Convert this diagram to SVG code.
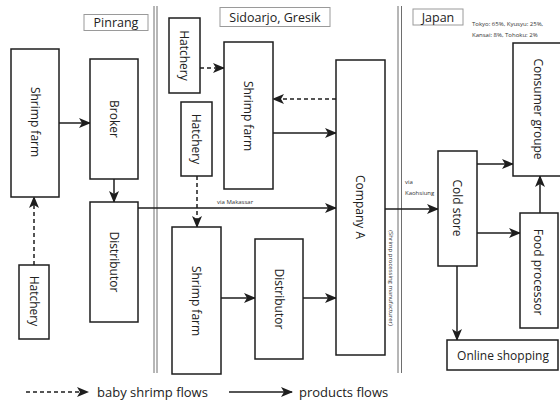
<svg xmlns="http://www.w3.org/2000/svg" width="560" height="401" viewBox="0 0 560 401">
  <style>
    .box { fill: #fff; stroke: #1e1e1e; stroke-width: 1.5; }
    .tag { fill: #fff; stroke: #9a9a9a; stroke-width: 1; }
    .lbl { font-family: "Open Sans", "Liberation Sans", sans-serif; font-size: 12px; fill: #222; text-anchor: middle; dominant-baseline: central; }
    .tagtxt { font-family: "Open Sans", "Liberation Sans", sans-serif; font-size: 12.5px; fill: #222; text-anchor: middle; dominant-baseline: central; }
    .small { font-family: "Open Sans", "Liberation Sans", sans-serif; font-size: 6px; fill: #333; }
    .sep { stroke: #6e6e6e; stroke-width: 1; }
    .flow { fill: none; stroke: #1e1e1e; stroke-width: 1.5; marker-end: url(#head); }
    .baby { fill: none; stroke: #1e1e1e; stroke-width: 1.5; stroke-dasharray: 4 3; marker-end: url(#head); }
    .legend { font-family: "Open Sans", "Liberation Sans", sans-serif; font-size: 13px; fill: #222; }
  </style>
  <defs>
    <marker id="head" markerUnits="userSpaceOnUse" markerWidth="12" markerHeight="10" refX="11" refY="5" orient="auto">
      <path d="M0,0 L12,5 L0,10 L3,5 Z" fill="#1e1e1e"/>
    </marker>
  </defs>

  <rect width="560" height="401" fill="#fff"/>

  <!-- region separators -->
  <g id="separators">
    <line class="sep" x1="154" y1="6" x2="154" y2="373"/>
    <line class="sep" x1="157" y1="6" x2="157" y2="373"/>
    <line class="sep" x1="398" y1="6" x2="398" y2="373"/>
    <line class="sep" x1="401.5" y1="6" x2="401.5" y2="373"/>
  </g>

  <!-- region titles -->
  <g id="title-pinrang">
    <rect class="tag" x="84" y="14.5" width="64" height="16"/>
    <text class="tagtxt" x="116" y="22.5">Pinrang</text>
  </g>
  <g id="title-sidoarjo">
    <rect class="tag" x="220" y="7.5" width="110" height="19"/>
    <text class="tagtxt" x="275" y="17">Sidoarjo, Gresik</text>
  </g>
  <g id="title-japan">
    <rect class="tag" x="413" y="9" width="50" height="16"/>
    <text class="tagtxt" x="438" y="17">Japan</text>
  </g>
  <g id="japan-shares">
    <text class="small" x="472" y="26">Tokyo: 65%, Kyusyu: 25%,</text>
    <text class="small" x="472" y="37">Kansai: 8%, Tohoku: 2%</text>
  </g>

  <!-- connectors -->
  <g id="connectors">
    <line class="flow" x1="59" y1="123" x2="90" y2="123"/>
    <line class="flow" x1="114" y1="179" x2="114" y2="202"/>
    <line class="baby" x1="34" y1="265" x2="34" y2="197"/>
    <line class="flow" x1="138" y1="208" x2="336" y2="208"/>
    <line class="baby" x1="200" y1="68" x2="224" y2="68"/>
    <line class="baby" x1="336" y1="99" x2="273" y2="99"/>
    <line class="flow" x1="273" y1="133" x2="336" y2="133"/>
    <line class="baby" x1="197" y1="176" x2="197" y2="227"/>
    <line class="flow" x1="221" y1="298" x2="255" y2="298"/>
    <line class="flow" x1="303" y1="298" x2="336" y2="298"/>
    <line class="flow" x1="385" y1="209" x2="438" y2="209"/>
    <line class="flow" x1="477" y1="164" x2="513" y2="164"/>
    <line class="flow" x1="477" y1="233" x2="520" y2="233"/>
    <line class="flow" x1="540" y1="213" x2="540" y2="176"/>
    <line class="flow" x1="457" y1="266" x2="457" y2="340"/>
    <text class="small" x="217" y="204">via Makassar</text>
    <text class="small" x="405" y="184">via</text>
    <text class="small" x="405" y="195">Kaohsiung</text>
  </g>

  <!-- Pinrang nodes -->
  <g id="shrimp-farm-pinrang">
    <rect class="box" x="11" y="49" width="48" height="148"/>
    <text class="lbl" transform="translate(35,122) rotate(90)" font-size="13">Shrimp farm</text>
  </g>
  <g id="broker">
    <rect class="box" x="90" y="59" width="48" height="120"/>
    <text class="lbl" transform="translate(114,119) rotate(90)" font-size="13">Broker</text>
  </g>
  <g id="distributor-pinrang">
    <rect class="box" x="90" y="202" width="48" height="120"/>
    <text class="lbl" transform="translate(114,262) rotate(90)">Distributor</text>
  </g>
  <g id="hatchery-pinrang">
    <rect class="box" x="19" y="265" width="30" height="74"/>
    <text class="lbl" transform="translate(34,301) rotate(90)" font-size="10.5">Hatchery</text>
  </g>

  <!-- Sidoarjo / Gresik nodes -->
  <g id="hatchery-1">
    <rect class="box" x="169" y="18" width="31" height="75"/>
    <text class="lbl" transform="translate(184.5,55.5) rotate(90)" font-size="10.5">Hatchery</text>
  </g>
  <g id="shrimp-farm-1">
    <rect class="box" x="224" y="42" width="49" height="147"/>
    <text class="lbl" transform="translate(248.5,116) rotate(90)" font-size="13">Shrimp farm</text>
  </g>
  <g id="hatchery-2">
    <rect class="box" x="181" y="102" width="31" height="74"/>
    <text class="lbl" transform="translate(196.5,139) rotate(90)" font-size="10.5">Hatchery</text>
  </g>
  <g id="shrimp-farm-2">
    <rect class="box" x="172" y="227" width="49" height="147"/>
    <text class="lbl" transform="translate(196.5,301) rotate(90)" font-size="13">Shrimp farm</text>
  </g>
  <g id="distributor-2">
    <rect class="box" x="255" y="239" width="48" height="120"/>
    <text class="lbl" transform="translate(279,299) rotate(90)">Distributor</text>
  </g>
  <g id="company-a">
    <rect class="box" x="336" y="60" width="49" height="295"/>
    <text class="lbl" transform="translate(360.5,207) rotate(90)" font-size="15">Company A</text>
    <text class="small" transform="translate(390.5,278) rotate(90)" text-anchor="middle" dominant-baseline="central" font-size="7">(Shrimp processing manufacturer)</text>
  </g>

  <!-- Japan nodes -->
  <g id="cold-store">
    <rect class="box" x="438" y="151" width="39" height="115"/>
    <text class="lbl" transform="translate(457.5,208) rotate(90)">Cold store</text>
  </g>
  <g id="consumer-groupe">
    <rect class="box" x="513" y="43" width="52" height="133"/>
    <text class="lbl" transform="translate(538,109) rotate(90)" font-size="13">Consumer groupe</text>
  </g>
  <g id="food-processor">
    <rect class="box" x="520" y="213" width="38" height="115"/>
    <text class="lbl" transform="translate(538.5,272) rotate(90)" font-size="11.5">Food processor</text>
  </g>
  <g id="online-shopping">
    <rect class="box" x="447" y="340" width="111" height="30"/>
    <text class="lbl" x="503" y="355">Online shopping</text>
  </g>

  <!-- legend -->
  <g id="legend">
    <line class="baby" x1="26" y1="392" x2="88" y2="392"/>
    <text class="legend" x="97" y="396.5">baby shrimp flows</text>
    <line class="flow" x1="229" y1="392" x2="292" y2="392"/>
    <text class="legend" x="299" y="396.5">products flows</text>
  </g>
</svg>
